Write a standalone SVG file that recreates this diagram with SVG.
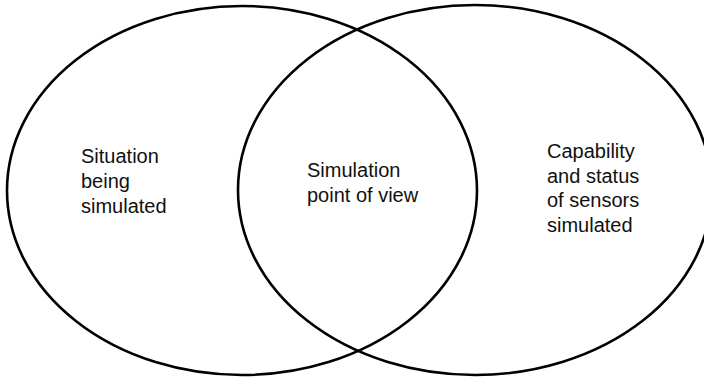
<svg xmlns="http://www.w3.org/2000/svg" width="704" height="379" viewBox="0 0 704 379">
<style>
.c{fill:none;stroke:#000;stroke-width:2.6}
.t{font-family:"Liberation Sans",Arial,sans-serif;font-size:20px;fill:#111}
</style>
<rect width="704" height="379" fill="#fff"/>
<g id="left-set">
<ellipse class="c" cx="242" cy="190.5" rx="235" ry="184.5"/>
<text class="t" x="81" y="163">Situation</text>
<text class="t" x="81" y="188">being</text>
<text class="t" x="81" y="213">simulated</text>
</g>
<g id="right-set">
<ellipse class="c" cx="475" cy="190" rx="237" ry="185"/>
<text class="t" x="547" y="158">Capability</text>
<text class="t" x="547" y="182.5">and status</text>
<text class="t" x="547" y="207">of sensors</text>
<text class="t" x="547" y="231.5">simulated</text>
</g>
<g id="overlap">
<text class="t" x="307" y="177">Simulation</text>
<text class="t" x="307" y="202">point of view</text>
</g>
<g id="connectors"/>
</svg>
